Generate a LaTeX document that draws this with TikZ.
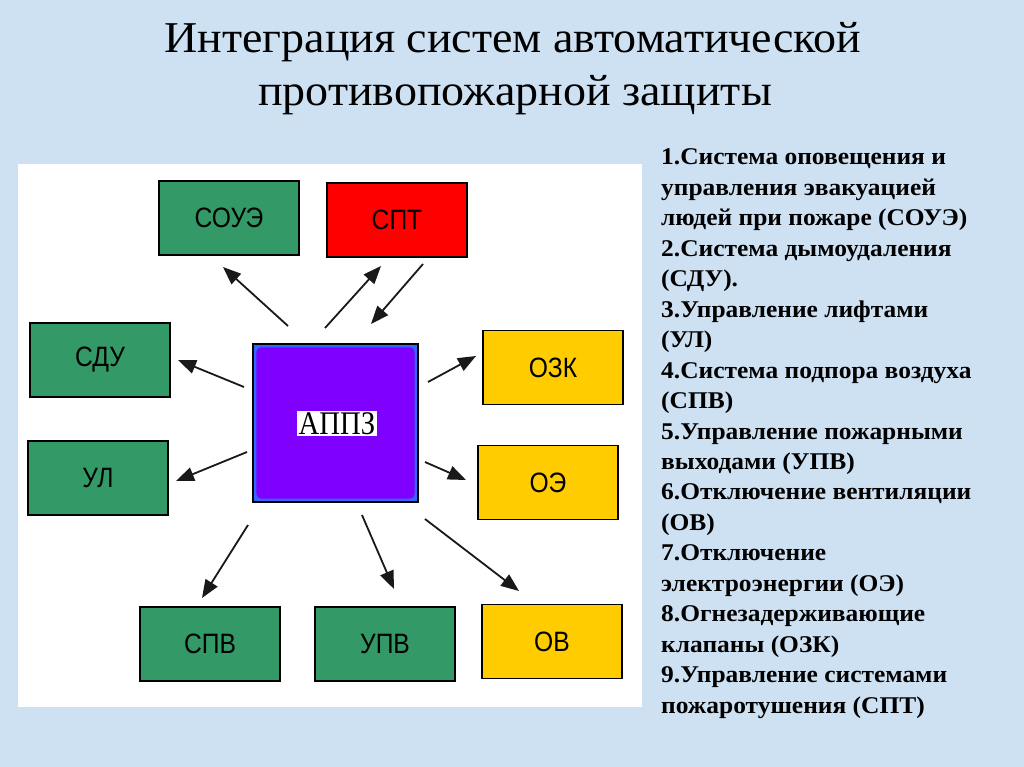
\documentclass[tikz,border=0pt]{standalone}
\usepackage{fontspec}
\setmainfont{Liberation Serif}
\newfontfamily\titlefont[FakeStretch=1.045]{Liberation Serif}
\newfontfamily\listfont[FakeStretch=1.06]{Liberation Serif}
\newfontfamily\labelfont[FakeStretch=0.87]{Liberation Serif}
\newfontfamily\boxfont[FakeStretch=0.88]{Liberation Sans}
\usetikzlibrary{arrows.meta}
\definecolor{bgblue}{RGB}{206,225,243}
\definecolor{boxgreen}{RGB}{51,153,102}
\definecolor{boxred}{RGB}{255,0,0}
\definecolor{boxyellow}{RGB}{255,204,0}
\definecolor{apurple}{RGB}{128,0,255}
\definecolor{ablue}{RGB}{51,102,255}
\tikzset{
  sysbox/.style={draw=black, line width=1.8pt, minimum width=140pt, minimum height=74pt,
    inner sep=0pt, font=\boxfont\fontsize{28}{28}\selectfont},
  gbox/.style={sysbox, fill=boxgreen},
  rbox/.style={sysbox, fill=boxred},
  ybox/.style={sysbox, fill=boxyellow},
  arr/.style={draw=black!90, line width=1.8pt, -{Triangle[length=18pt,width=14pt]}},
  listline/.style={anchor=base west, inner sep=0pt, font=\listfont\bfseries\fontsize{24}{24}\selectfont},
  titleline/.style={inner sep=0pt, anchor=base, font=\titlefont\fontsize{44}{44}\selectfont},
}
\begin{document}
\begin{tikzpicture}[x=1pt,y=-1pt]
\fill[bgblue] (0,0) rectangle (1024,767);
\useasboundingbox (0,0) rectangle (1024,767);
% title
\node[titleline] (t1) at (513,53) {Интеграция систем автоматической};
\node[titleline] (t2) at (515,106) {противопожарной защиты};
% white panel
\fill[white] (18,164) rectangle (642,707);
% central block
\node[draw=black, line width=1.4pt, fill=ablue, minimum width=165pt, minimum height=158pt, inner sep=0pt] (appz) at (335.5,423) {};
\fill[apurple, rounded corners=5pt] ([xshift=4pt,yshift=-4pt]appz.north west) rectangle ([xshift=-4pt,yshift=4pt]appz.south east);
\node[fill=white, inner sep=1.5pt, font=\labelfont\fontsize{33}{33}\selectfont] (appzl) at (337,423.5) {АППЗ};
% boxes
\node[gbox] (soue) at (229,218) {СОУЭ};
\node[rbox] (spt) at (397,220) {СПТ};
\node[gbox] (sdu) at (100,360) {СДУ};
\node[gbox] (ul) at (98,478) {УЛ};
\node[ybox] (ozk) at (553,367.5) {ОЗК};
\node[ybox] (oe) at (548,482.5) {ОЭ};
\node[ybox] (ov) at (552,641.5) {ОВ};
\node[gbox] (spv) at (210,644) {СПВ};
\node[gbox] (upv) at (385,644) {УПВ};
% arrow end points
\coordinate (a1s) at (288,326); \coordinate (a1e) at (223,267);
\coordinate (a2s) at (325,328); \coordinate (a2e) at (381,266);
\coordinate (a3s) at (423,264); \coordinate (a3e) at (371,324);
\coordinate (a4s) at (244,387); \coordinate (a4e) at (178,360);
\coordinate (a5s) at (247,452); \coordinate (a5e) at (176,481);
\coordinate (a6s) at (428,382); \coordinate (a6e) at (476,356);
\coordinate (a7s) at (425,462); \coordinate (a7e) at (466,480);
\coordinate (a8s) at (425,519); \coordinate (a8e) at (519,591);
\coordinate (a9s) at (248,525); \coordinate (a9e) at (202,598);
\coordinate (a10s) at (362,515); \coordinate (a10e) at (394,589);
\foreach \k in {1,...,10} {\draw[arr] (a\k s) -- (a\k e);}
% list text
\foreach \t [count=\i from 0] in {
1.Система оповещения и,
управления эвакуацией,
людей при пожаре (СОУЭ),
2.Система дымоудаления,
(СДУ).,
3.Управление лифтами,
(УЛ),
4.Система подпора воздуха,
(СПВ),
5.Управление пожарными,
выходами (УПВ),
6.Отключение вентиляции,
(ОВ),
7.Отключение,
электроэнергии (ОЭ),
8.Огнезадерживающие,
клапаны (ОЗК),
9.Управление системами,
пожаротушения (СПТ)}
  \node[listline] (line\i) at (661,{165+30.45*\i}) {\t};
\end{tikzpicture}
\end{document}
